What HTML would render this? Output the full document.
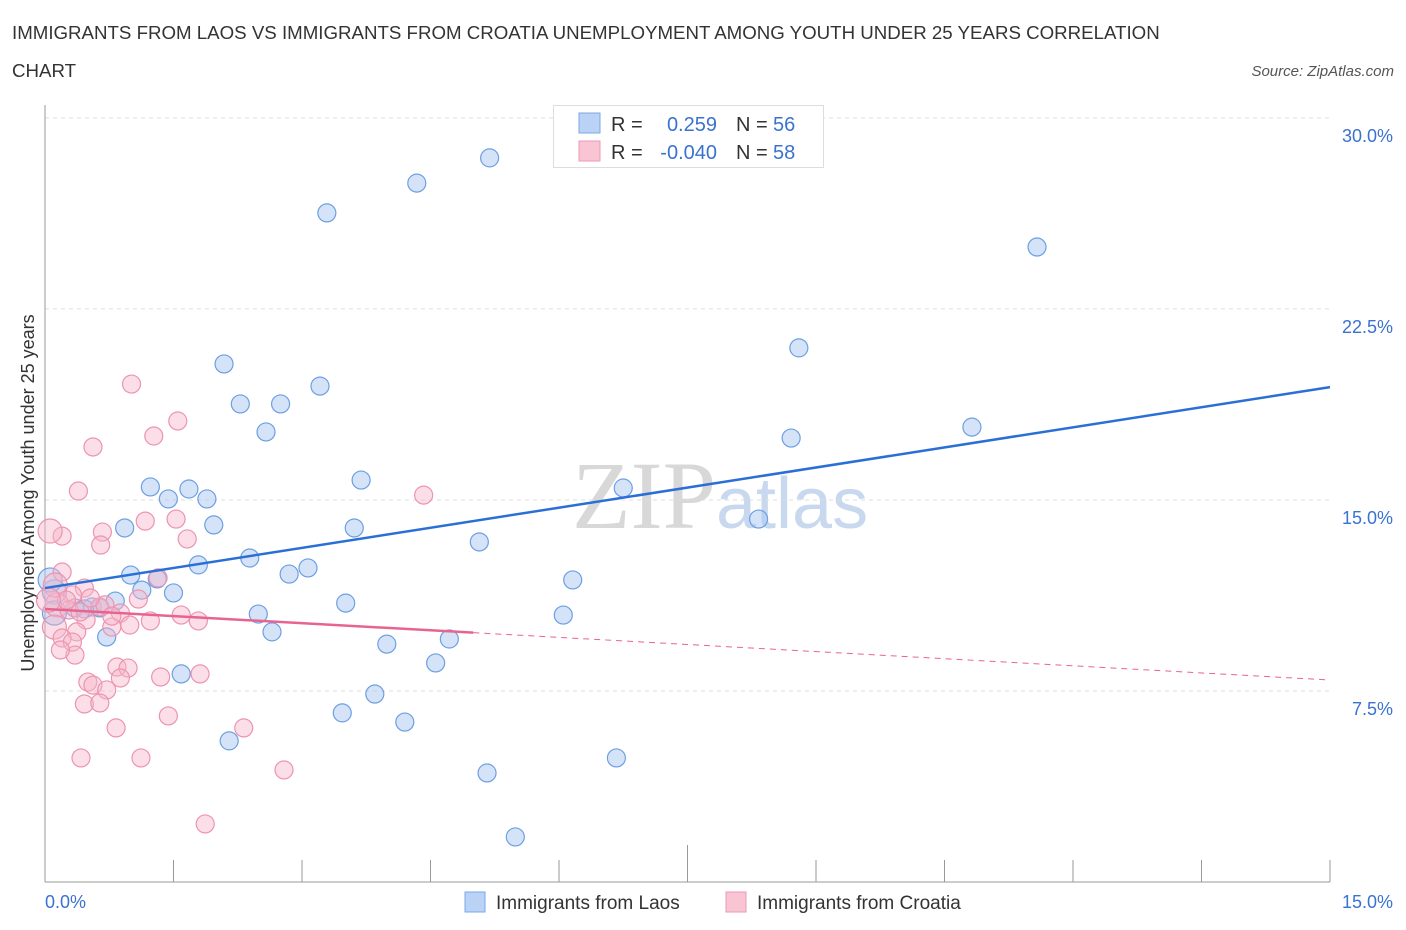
<!DOCTYPE html>
<html><head><meta charset="utf-8"><style>
body{margin:0;background:#fff;font-family:"Liberation Sans",sans-serif;}
#wrap{position:relative;width:1406px;height:930px;overflow:hidden;}
</style></head><body>
<div id="wrap">
<svg id="chart" width="1406" height="930">
<text x="12" y="39" font-size="18.7" fill="#333">IMMIGRANTS FROM LAOS VS IMMIGRANTS FROM CROATIA UNEMPLOYMENT AMONG YOUTH UNDER 25 YEARS CORRELATION</text>
<text x="12" y="77" font-size="18.7" fill="#333">CHART</text>
<text x="1394" y="76" font-size="15" fill="#555" font-style="italic" text-anchor="end">Source: ZipAtlas.com</text>
<text x="34" y="493" font-size="18" fill="#333" text-anchor="middle" transform="rotate(-90 34 493)">Unemployment Among Youth under 25 years</text>
<text x="716" y="528" font-size="96" fill="#d8d8d8" text-anchor="end" font-family="Liberation Serif,serif">ZIP</text>
<text x="716" y="528" font-size="72" fill="#c8d8ee">atlas</text>
<g id="grid"></g><g id="axes"></g><g id="marks"></g>
<g>
<rect x="553.5" y="105.5" width="270" height="62" fill="#fff" stroke="#ddd"/>
<rect x="579" y="113" width="21" height="20" fill="#b9d2f5" stroke="#7aa8e8"/>
<rect x="579" y="141" width="21" height="20" fill="#f9c5d5" stroke="#ec9ab5"/>
<text x="611" y="131" font-size="20" fill="#333">R =</text><text x="717" y="131" font-size="20" fill="#3a72d0" text-anchor="end">0.259</text>
<text x="736" y="131" font-size="20" fill="#333">N =</text><text x="773" y="131" font-size="20" fill="#3a72d0">56</text>
<text x="611" y="159" font-size="20" fill="#333">R =</text><text x="717" y="159" font-size="20" fill="#3a72d0" text-anchor="end">-0.040</text>
<text x="736" y="159" font-size="20" fill="#333">N =</text><text x="773" y="159" font-size="20" fill="#3a72d0">58</text>
</g>
<g>
<rect x="465" y="892" width="20" height="20" fill="#b9d2f5" stroke="#7aa8e8"/>
<text x="496" y="909" font-size="19" fill="#333">Immigrants from Laos</text>
<rect x="726" y="892" width="20" height="20" fill="#f9c5d5" stroke="#ec9ab5"/>
<text x="757" y="909" font-size="19" fill="#333">Immigrants from Croatia</text>
</g>
</svg>
</div>
<script>
const yTicks=[7.5,15,22.5,30];
const yTickLabels=["7.5%","15.0%","22.5%","30.0%"];
const xTickLabels=["0.0%","15.0%"];
const laosX=[5.19,4.34,3.29,11.58,8.80,2.09,3.21,2.28,2.75,2.58,8.71,10.82,3.69,1.23,1.68,1.44,1.89,6.75,1.97,0.93,3.61,8.33,5.07,2.39,1.79,3.07,2.85,1.00,1.31,6.16,1.13,1.50,0.11,0.82,0.55,3.51,2.49,6.05,0.35,0.64,0.46,0.11,2.65,0.72,4.72,3.99,4.56,1.59,3.85,3.47,4.20,2.15,6.67,5.16,5.49,0.06];
const laosY=[28.43,27.44,26.27,24.93,20.97,20.34,19.47,18.77,18.77,17.67,17.43,17.86,15.78,15.51,15.43,15.04,15.04,15.47,14.02,13.90,13.90,14.25,13.35,12.72,12.45,12.33,12.09,12.05,11.90,11.86,11.46,11.35,11.39,11.03,10.80,10.95,10.52,10.48,10.76,10.76,10.72,10.56,9.82,9.62,9.54,9.34,8.60,8.17,7.38,6.64,6.28,5.54,4.87,4.28,1.77,11.86];
const croX=[1.01,1.55,1.27,0.56,0.39,4.42,1.17,1.53,0.67,0.20,0.65,1.66,0.06,0.20,1.32,0.46,0.32,1.09,0.14,0.64,0.28,0.88,1.23,1.59,1.79,0.48,0.78,0.11,0.37,0.20,0.32,0.70,0.35,0.84,0.97,1.35,0.50,0.88,1.81,0.56,0.72,1.44,0.46,0.64,0.83,2.32,1.12,0.42,2.79,1.87,0.12,0.25,0.41,0.04,0.18,0.53,0.78,0.99];
const croY=[19.55,18.10,17.51,17.08,15.35,15.19,14.17,14.25,13.74,13.58,13.23,13.47,13.78,12.17,11.94,11.54,11.27,11.11,10.88,10.80,10.68,10.56,10.25,10.48,10.25,10.29,10.01,10.01,9.82,9.58,9.42,10.88,8.91,8.44,8.40,8.05,7.85,8.01,8.17,7.73,7.54,6.52,6.99,7.03,6.05,6.05,4.87,4.87,4.40,2.28,11.66,11.07,10.60,11.07,9.11,11.15,10.44,10.09];
const laosTrend=[11.54,19.43];
const croTrend=[10.72,7.93];
const croSolidEnd=5.0;
const X0=45,X1=1330,Y0=882;
const xs=v=>X0+(v/15)*(X1-X0);
const ys=v=>Y0-v*25.47;
const NS="http://www.w3.org/2000/svg";
function mk(t,a,p){const e=document.createElementNS(NS,t);for(const k in a)e.setAttribute(k,a[k]);p.appendChild(e);return e;}
const grid=document.getElementById('grid'),axes=document.getElementById('axes'),marks=document.getElementById('marks');
yTicks.forEach((t,i)=>{
 const l=mk('line',{x1:45,x2:1330,y1:ys(t),y2:ys(t),stroke:'#ddd','stroke-dasharray':'4,4'},grid);
 
 
 const tx=mk('text',{x:1393,y:ys(t)+24,'font-size':18,fill:'#3a72d0','text-anchor':'end'},axes);tx.textContent=yTickLabels[i];
 
 
});
const ya=mk('line',{x1:45,x2:45,y1:105,y2:882,stroke:'#999'},axes);


const xa=mk('line',{x1:45,x2:1330,y1:882,y2:882,stroke:'#999'},axes);


for(let i=0;i<=10;i++){const x=xs(i*1.5);const t=mk('line',{x1:x,x2:x,y1:(i==5?845:860),y2:882,stroke:'#999'},axes);
 
 }
const xl0=mk('text',{x:45,y:908,'font-size':18,fill:'#3a72d0'},axes);xl0.textContent=xTickLabels[0];


const xl1=mk('text',{x:1393,y:908,'font-size':18,fill:'#3a72d0','text-anchor':'end'},axes);xl1.textContent=xTickLabels[1];


laosX.forEach((v,i)=>{const c=mk('circle',{cx:xs(v),cy:ys(laosY[i]),r:(v<0.15?12:9),fill:'rgba(170,200,242,0.5)',stroke:'#6d9fe2','stroke-width':1.2},marks);
 
 });
croX.forEach((v,i)=>{const c=mk('circle',{cx:xs(v),cy:ys(croY[i]),r:(v<0.15?12:9),fill:'rgba(246,182,202,0.45)',stroke:'#ec94b0','stroke-width':1.2},marks);
 
 });
const lt=mk('line',{x1:xs(0),y1:ys(laosTrend[0]),x2:xs(15),y2:ys(laosTrend[1]),stroke:'#2a6fd6','stroke-width':2.5},marks);


const cm=croTrend[0]+(croTrend[1]-croTrend[0])*croSolidEnd/15;
const ct=mk('line',{x1:xs(0),y1:ys(croTrend[0]),x2:xs(croSolidEnd),y2:ys(cm),stroke:'#e8648e','stroke-width':2.5},marks);


const cd=mk('line',{x1:xs(croSolidEnd),y1:ys(cm),x2:xs(15),y2:ys(croTrend[1]),stroke:'#e8648e','stroke-width':1,'stroke-dasharray':'6,5'},marks);


</script>
</body></html>
